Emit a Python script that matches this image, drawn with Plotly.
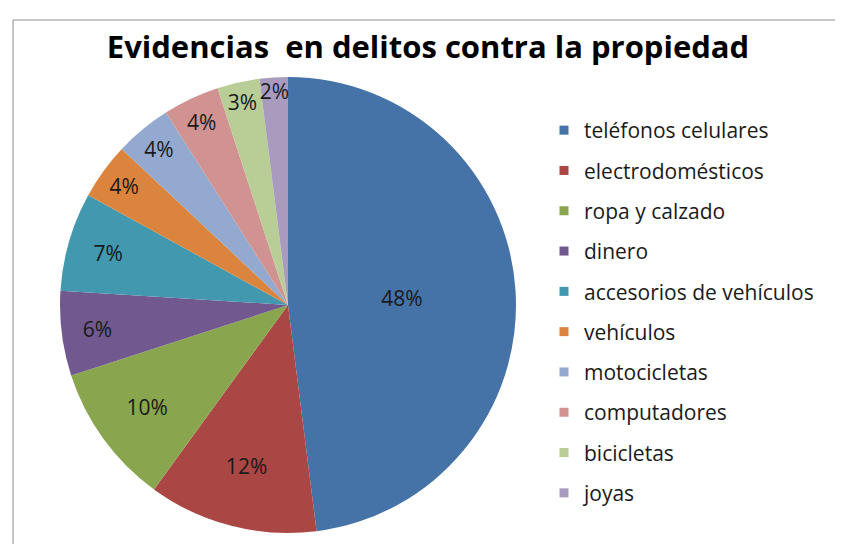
import plotly.graph_objects as go

categories = ["teléfonos celulares", "electrodomésticos", "ropa y calzado", "dinero",
              "accesorios de vehículos", "vehículos", "motocicletas", "computadores",
              "bicicletas", "joyas"]
values = [48, 12, 10, 6, 7, 4, 4, 4, 3, 2]
colors = ["#4572A7", "#AA4643", "#89A54E", "#71588F", "#4198AF",
          "#DB843D", "#93A9CF", "#D19392", "#B9CD96", "#A99BBD"]
title_text = "Evidencias  en delitos contra la propiedad"

W, H = 843, 544
cx, cy, r = 280, 297, 228

fig = go.Figure()
fig.add_trace(go.Pie(
    labels=categories, values=values, sort=False, direction="clockwise", rotation=0,
    marker=dict(colors=colors, line=dict(width=0)),
    texttemplate="%{value}%", textposition="inside", insidetextorientation="horizontal",
    textfont=dict(family="Open Sans", size=21, color="#1a1a1a"),
    showlegend=False, hoverinfo="label+percent",
    domain=dict(x=[(cx - r) / W, (cx + r) / W], y=[1 - (cy + r) / H, 1 - (cy - r) / H]),
))
for i, (c, col) in enumerate(zip(categories, colors)):
    fig.add_trace(go.Scatter(
        x=[None], y=[None], mode="markers", name=c, legendgroup=f"g{i}",
        marker=dict(symbol="square", size=9, color=col), showlegend=True,
    ))

fig.update_layout(
    width=W, height=H, margin=dict(l=0, r=0, t=0, b=0),
    paper_bgcolor="white", plot_bgcolor="white",
    xaxis=dict(visible=False), yaxis=dict(visible=False),
    title=dict(text=f"<b>{title_text}</b>", x=420 / W, xanchor="center", y=1 - 39 / H, yanchor="middle",
               font=dict(family="Open Sans", size=31, color="#000000")),
    legend=dict(x=536 / W, xanchor="left", y=1 - 102 / H, yanchor="top",
                font=dict(family="Open Sans", size=21, color="#1a1a1a"),
                tracegroupgap=10, itemwidth=30, bgcolor="rgba(0,0,0,0)"),
    uniformtext=dict(minsize=21, mode="show"),
    shapes=[dict(type="rect", xref="paper", yref="paper", x0=5 / W, x1=1.05, y0=-0.05, y1=1 - 12 / H,
                 line=dict(color="#8c8c8c", width=1), fillcolor="rgba(0,0,0,0)", layer="below")],
)
fig.write_html("out.html")
